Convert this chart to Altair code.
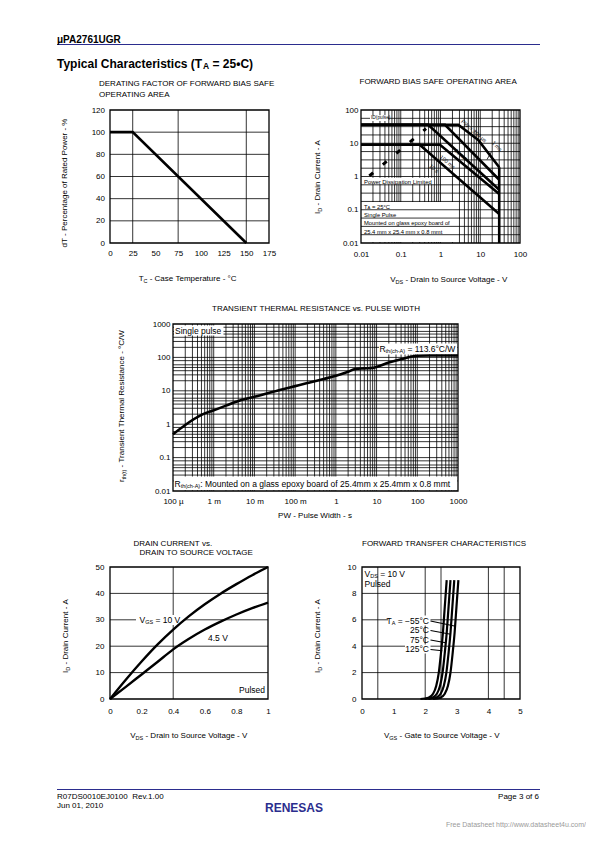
import altair as alt
import pandas as pd

FONT = "Liberation Sans"
W, H = 578, 820          # whole drawing area (page minus 8px margin)
M = 8                    # page margin
BLUE = "#2b2d8e"

# ---------------- data ----------------
# Panel 1: derating factor
derate_temp_c = [0, 25, 150]
derate_pct = [100, 100, 0]
p1_xticks = [0, 25, 50, 75, 100, 125, 150, 175]
p1_yticks = [0, 20, 40, 60, 80, 100, 120]
p1_xgrid = [25, 75, 150]
p1_ygrid = [20, 40, 60, 80, 100]

# Panel 2: forward bias safe operating area
soa_300us_v = [0.01, 2.8, 8.9, 30]
soa_300us_i = [36, 36, 12.5, 1.9]
soa_1ms_v = [0.01, 1.3, 30]
soa_1ms_i = [36, 36, 0.8]
soa_10ms_v = [0.01, 0.49, 30]
soa_10ms_i = [36, 36, 0.4]
soa_100ms_v = [0.01, 0.97, 30]
soa_100ms_i = [9, 9, 0.3]
soa_10s_v = [0.01, 0.3, 30]
soa_10s_i = [9, 9, 0.075]
rds_limit_v = [0.0162, 0.433]
rds_limit_i = [1.04, 27.7]
vdss_v = [30, 30]
vdss_i = [0.01, 1.9]
p2_ticks = [0.01, 0.1, 1, 10, 100]

# Panel 3: transient thermal resistance
pulse_width_s = [1e-4, 2e-4, 5e-4, 1e-3, 2e-3, 5e-3, 1e-2, 2e-2, 5e-2, 0.1, 0.2, 0.5,
                 1, 2, 3, 5, 8, 10, 20, 50, 80, 100, 200, 1000]
rth_cw = [0.5, 0.95, 1.9, 2.6, 3.6, 5.4, 6.6, 8.3, 11.2, 13.8, 17, 22.5,
          28, 37, 45, 47, 48.5, 52, 70, 95, 108, 112, 113.6, 113.6]
p3_xticks = [1e-4, 1e-3, 1e-2, 0.1, 1, 10, 100, 1000]
p3_xlabels = ["100 µ", "1 m", "10 m", "100 m", "1", "10", "100", "1000"]
p3_yticks = [0.01, 0.1, 1, 10, 100, 1000]

# Panel 4: drain current vs drain-source voltage
vds_v = [0, 0.1, 0.2, 0.3, 0.4, 0.5, 0.6, 0.7, 0.8, 0.9, 1.0]
id_vgs10 = [0, 7.3, 14.2, 20.6, 26.3, 31.4, 35.9, 39.9, 43.5, 46.9, 50.0]
id_vgs45 = [0, 4.6, 9.3, 14.0, 18.8, 22.8, 26.3, 29.3, 32.0, 34.4, 36.5]
p4_xticks = [0, 0.2, 0.4, 0.6, 0.8, 1]
p4_yticks = [0, 10, 20, 30, 40, 50]
p4_xgrid = [0.4]
p4_ygrid = [10, 20, 30, 40]

# Panel 5: forward transfer characteristics
ft_id = [0, 0.1, 0.4, 1, 2, 3.5, 5, 7, 9]
ft_vgs_125c = [1.85, 2.10, 2.25, 2.35, 2.43, 2.50, 2.56, 2.62, 2.68]
ft_vgs_75c = [1.98, 2.22, 2.37, 2.47, 2.55, 2.62, 2.68, 2.74, 2.80]
ft_vgs_25c = [2.10, 2.34, 2.49, 2.59, 2.67, 2.74, 2.80, 2.86, 2.92]
ft_vgs_m55c = [2.25, 2.48, 2.62, 2.72, 2.80, 2.87, 2.93, 2.99, 3.05]
p5_xticks = [0, 1, 2, 3, 4, 5]
p5_yticks = [0, 2, 4, 6, 8, 10]
p5_xgrid = [0.5, 2, 2.5, 4, 4.5]
p5_ygrid = [2, 4, 6, 8]

# ---------------- layout (page pixels) ----------------
PANELS = {
    "p1": {"box": (110, 110, 269, 243), "xd": [0, 175], "yd": [0, 120], "xlog": False, "ylog": False},
    "p2": {"box": (361, 110, 520, 243), "xd": [0.01, 100], "yd": [0.01, 100], "xlog": True, "ylog": True},
    "p3": {"box": (173, 324, 458, 491), "xd": [1e-4, 1000], "yd": [0.01, 1000], "xlog": True, "ylog": True},
    "p4": {"box": (110, 567, 268, 699), "xd": [0, 1], "yd": [0, 50], "xlog": False, "ylog": False},
    "p5": {"box": (362, 567, 520, 699), "xd": [0, 5], "yd": [0, 10], "xlog": False, "ylog": False},
}

WR = {' ': 278, '\u00a0': 278, '!': 278, '%': 889, '(': 333, ')': 333, '-': 333, '.': 278, '/': 278,
      ':': 278, ',': 278, '=': 584, '°': 400, 'µ': 556, 'μ': 576, '−': 584, '–': 556, '•': 350,
      'A': 667, 'B': 667, 'C': 722, 'D': 722, 'E': 667, 'F': 611, 'G': 778, 'H': 722, 'I': 278,
      'J': 500, 'K': 667, 'L': 556, 'M': 833, 'N': 722, 'O': 778, 'P': 667, 'Q': 778, 'R': 722,
      'S': 667, 'T': 611, 'U': 722, 'V': 667, 'W': 944, 'X': 667, 'Y': 667, 'Z': 611,
      'a': 556, 'b': 556, 'c': 500, 'd': 556, 'e': 556, 'f': 278, 'g': 556, 'h': 556, 'i': 222,
      'j': 222, 'k': 500, 'l': 222, 'm': 833, 'n': 556, 'o': 556, 'p': 556, 'q': 556, 'r': 333,
      's': 500, 't': 278, 'u': 556, 'v': 500, 'w': 722, 'x': 500, 'y': 500, 'z': 500}
WB = dict(WR)
WB.update({'A': 722, 'C': 722, 'T': 611, 'a': 556, 'c': 556, 'e': 556, 'h': 611, 'i': 278,
           'l': 278, 'p': 611, 'r': 389, 's': 556, 't': 333, 'y': 556})

ONE = pd.DataFrame({"k": [0]})
PLAIN = "'' + datum.value"


def scale(dom, rng, log):
    if log:
        return alt.Scale(type="log", domain=dom, range=rng, nice=False)
    return alt.Scale(type="linear", domain=dom, range=rng, nice=False, zero=False)


def xsc(p):
    P = PANELS[p]
    return scale(P["xd"], [P["box"][0] - M, P["box"][2] - M], P["xlog"])


def ysc(p):
    P = PANELS[p]
    return scale(P["yd"], [P["box"][3] - M, P["box"][1] - M], P["ylog"])


def ax_common(pad):
    return dict(ticks=False, tickSize=0, domain=False, grid=False, labelPadding=pad,
                labelFont=FONT, labelFontSize=8, labelColor="black", labelFlush=False,
                labelOverlap=False, title=None)


def xaxis(p, values, pad, expr=PLAIN):
    b = PANELS[p]["box"]
    kw = ax_common(pad)
    kw.update(values=values, orient="bottom", offset=(b[3] - M) - H, labelExpr=expr)
    return alt.Axis(**kw)


def yaxis(p, values, pad, expr=PLAIN):
    b = PANELS[p]["box"]
    kw = ax_common(pad)
    kw.update(values=values, orient="left", offset=-(b[0] - M), labelExpr=expr)
    return alt.Axis(**kw)


def frame(p, xax, yax):
    P = PANELS[p]
    df = pd.DataFrame({"xa": [P["xd"][0]], "xb": [P["xd"][1]],
                       "ya": [P["yd"][0]], "yb": [P["yd"][1]]})
    return alt.Chart(df).mark_rect(fillOpacity=0, stroke="black", strokeWidth=1.3).encode(
        x=alt.X("xa:Q", scale=xsc(p), axis=xax), x2="xb:Q",
        y=alt.Y("ya:Q", scale=ysc(p), axis=yax), y2="yb:Q")


def vgrid(p, gx, w=0.8):
    P = PANELS[p]
    df = pd.DataFrame({"g": gx})
    df["a"] = P["yd"][0]
    df["b"] = P["yd"][1]
    return alt.Chart(df).mark_rule(color="black", strokeWidth=w).encode(
        x=alt.X("g:Q", scale=xsc(p), axis=None),
        y=alt.Y("a:Q", scale=ysc(p), axis=None), y2="b:Q")


def hgrid(p, gy, w=0.8):
    P = PANELS[p]
    df = pd.DataFrame({"g": gy})
    df["a"] = P["xd"][0]
    df["b"] = P["xd"][1]
    return alt.Chart(df).mark_rule(color="black", strokeWidth=w).encode(
        y=alt.Y("g:Q", scale=ysc(p), axis=None),
        x=alt.X("a:Q", scale=xsc(p), axis=None), x2="b:Q")


def curve(p, xs, ys, width=2.5, interp=None, dash=None):
    df = pd.DataFrame({"x": xs, "y": ys, "o": list(range(len(xs)))})
    mk = dict(color="black", strokeWidth=width)
    if interp:
        mk["interpolate"] = interp
    if dash:
        mk["strokeDash"] = dash
    return alt.Chart(df).mark_line(**mk).encode(
        x=alt.X("x:Q", scale=xsc(p), axis=None),
        y=alt.Y("y:Q", scale=ysc(p), axis=None), order="o:Q")


def txt(s, x, y, size=8, align="left", angle=0, weight="normal", color="black"):
    mk = dict(text=s.replace(" ", "\u00a0"), align=align, baseline="middle",
              fontSize=size, font=FONT, color=color)
    if angle:
        mk["angle"] = angle
    if weight != "normal":
        mk["fontWeight"] = weight
    return alt.Chart(ONE).mark_text(**mk).encode(x=alt.value(x - M), y=alt.value(y - M))


def tw(s, size, bold=False):
    tab = WB if bold else WR
    return sum(tab.get(c, 556) for c in s) * size / 1000.0


def rich(parts, x, y, anchor="left", angle=0, bold=False, color="black"):
    """Text pieces laid end to end (for subscripts); leading blanks become offsets."""
    total = sum(tw(t, s, bold) for t, s, _ in parts)
    pos = {"left": 0.0, "center": -total / 2.0, "right": -total}[anchor]
    out = []
    for t, s, sh in parts:
        wgt = "bold" if bold else "normal"
        body = t.lstrip(" ")
        lead = tw(t[:len(t) - len(body)], s, bold)
        p0 = pos + lead
        if angle == 0:
            out.append(txt(body, x + p0, y + sh, s, weight=wgt, color=color))
        else:
            out.append(txt(body, x + sh, y - p0, s, angle=270, weight=wgt, color=color))
        pos += tw(t, s, bold)
    return out


def white(x0, y0, x1, y1):
    return alt.Chart(ONE).mark_rect(color="white").encode(
        x=alt.value(x0 - M), x2=alt.value(x1 - M), y=alt.value(y0 - M), y2=alt.value(y1 - M))


def seg(x0, y0, x1, y1, w=1.0, color="black"):
    return alt.Chart(ONE).mark_rule(color=color, strokeWidth=w).encode(
        x=alt.value(x0 - M), x2=alt.value(x1 - M), y=alt.value(y0 - M), y2=alt.value(y1 - M))


def log_minor(lo, hi, mult):
    vals = []
    for e in range(lo, hi):
        for m in mult:
            if e == lo and m == 1:
                continue
            vals.append(m * 10.0 ** e)
    return vals


p2_xgrid = log_minor(-2, 2, [1, 2, 3, 4, 5, 6, 7, 8, 9])
p2_ygrid = [10 ** (k / 4.0) for k in range(-7, 8)]
p3_xgrid = log_minor(-4, 3, [1, 2, 3, 4, 5, 6, 7, 8, 9])
p3_ygrid = log_minor(-2, 3, [1, 2, 3, 4, 5, 6, 8])

S = 5.5  # subscript size
layers = []

# anchor so that page coordinates map exactly
layers.append(white(8, 8, 9, 9))

# vertical grids
layers += [vgrid("p1", p1_xgrid), vgrid("p2", p2_xgrid), vgrid("p3", p3_xgrid),
           vgrid("p4", p4_xgrid), vgrid("p5", p5_xgrid)]

# white backgrounds lying under horizontal grid (P2 notes)
layers += [white(362, 177.8, 434, 184.2), white(362, 202, 456, 242)]

# horizontal grids
layers += [hgrid("p1", p1_ygrid), hgrid("p2", p2_ygrid), hgrid("p3", p3_ygrid),
           hgrid("p4", p4_ygrid), hgrid("p5", p5_ygrid)]

# white backgrounds over all grid lines
layers += [white(370, 115.2, 388, 121),
           white(174, 325.5, 223.5, 335.5),
           white(379, 343.5, 457.3, 354.5),
           white(173.7, 476.5, 457.3, 490.3),
           white(136, 615, 184, 625),
           white(388, 615.5, 430.5, 625.5),
           white(405, 644.5, 430.5, 653.5)]

# frames + axes
p3_expr = "[" + ",".join("'%s'" % s for s in p3_xlabels) + "][round(log(datum.value)/LN10)+4]"
layers += [
    frame("p1", xaxis("p1", p1_xticks, 6.5), yaxis("p1", p1_yticks, 5.5)),
    frame("p2", xaxis("p2", p2_ticks, 7.5), yaxis("p2", p2_ticks, 3)),
    frame("p3", xaxis("p3", p3_xticks, 6, expr=p3_expr), yaxis("p3", p3_yticks, 3)),
    frame("p4", xaxis("p4", p4_xticks, 8.5), yaxis("p4", p4_yticks, 6)),
    frame("p5", xaxis("p5", p5_xticks, 8.5), yaxis("p5", p5_yticks, 6)),
]

# curves
layers += [
    curve("p1", derate_temp_c, derate_pct, width=2.6),
    curve("p2", soa_300us_v, soa_300us_i, width=2.6),
    curve("p2", soa_1ms_v, soa_1ms_i, width=2.6),
    curve("p2", soa_10ms_v, soa_10ms_i, width=2.6),
    curve("p2", soa_100ms_v, soa_100ms_i, width=2.6),
    curve("p2", soa_10s_v, soa_10s_i, width=2.6),
    curve("p2", vdss_v, vdss_i, width=2.6),
    curve("p2", rds_limit_v, rds_limit_i, width=3, dash=[5, 12.6]),
    curve("p3", pulse_width_s, rth_cw, width=2.6, interp="monotone"),
    curve("p4", vds_v, id_vgs10, width=2.4, interp="monotone"),
    curve("p4", vds_v, id_vgs45, width=2.4, interp="monotone"),
    curve("p5", ft_vgs_125c, ft_id, width=2.2, interp="monotone"),
    curve("p5", ft_vgs_75c, ft_id, width=2.2, interp="monotone"),
    curve("p5", ft_vgs_25c, ft_id, width=2.2, interp="monotone"),
    curve("p5", ft_vgs_m55c, ft_id, width=2.2, interp="monotone"),
]

# rules: header / footer lines, leaders
layers += [
    seg(57, 44.5, 540, 44.5, w=1.2, color=BLUE),
    seg(57, 789.5, 540, 789.5, w=1.2, color=BLUE),
    seg(491.5, 151.5, 487, 159.5, w=0.8),
    seg(430.5, 621, 455.5, 626.3, w=1.1),
    seg(430.5, 630.5, 450.7, 634.2, w=1.1),
    seg(430.5, 640, 445.7, 642.8, w=1.1),
    seg(430.5, 649.5, 442.3, 650.8, w=1.1),
]

# ---------------- texts ----------------
# header
layers.append(txt("μPA2761UGR", 57, 40, 10, weight="bold"))
layers += rich([("Typical Characteristics (T", 12, 0), ("A", 8.5, 2.5), (" = 25•C)", 12, 0)],
               57, 63.5, bold=True)

# panel 1
layers += [txt("DERATING FACTOR OF FORWARD BIAS SAFE", 99, 83.5, 8),
           txt("OPERATING AREA", 99, 95, 8)]
layers += rich([("T", 8, 0), ("C", S, 2), (" - Case Temperature - °C", 8, 0)], 188, 279, anchor="center")
layers += rich([("dT - Percentage of Rated Power - %", 8, 0)], 65, 183, anchor="center", angle=270)

# panel 2
layers.append(txt("FORWARD BIAS SAFE OPERATING AREA", 359.5, 81.5, 8))
layers += rich([("V", 8, 0), ("DS", S, 2), (" - Drain to Source Voltage - V", 8, 0)], 449, 280, anchor="center")
layers += rich([("I", 8, 0), ("D", S, 2), (" - Drain Current - A", 8, 0)], 318, 177, anchor="center", angle=270)
layers += [
    txt("ID(pulse)", 371, 118, 4.8),
    txt("PW = 300 µs", 474, 131, 5.5, align="center", angle=41),
    txt("1 ms", 497, 146, 5.5, align="center", angle=45),
    txt("10 ms", 461, 154.5, 5.5, align="center", angle=40),
    txt("100 ms", 447.5, 162, 5.5, align="center", angle=40),
    txt("10 s", 434, 168.5, 5.5, align="center", angle=40),
    txt("Power Dissipation Limited", 364, 181.5, 5.9),
    txt("Single Pulse", 364, 215, 5.8),
    txt("Mounted on glass epoxy board of", 364, 223.3, 5.8),
    txt("25.4 mm x 25.4 mm x 0.8 mmt", 364, 231.7, 5.8),
]
layers += rich([("T", 5.8, 0), ("A", 4.2, 1.2), (" = 25°C", 5.8, 0)], 364, 206.5)

# panel 3
layers.append(txt("TRANSIENT THERMAL RESISTANCE vs. PULSE WIDTH", 316, 309, 8, align="center"))
layers += rich([("PW - Pulse Width - s", 8, 0)], 315, 516, anchor="center")
layers += rich([("r", 8, 0), ("th(t)", S, 2), (" - Transient Thermal Resistance - °C/W", 8, 0)],
               121.5, 406, anchor="center", angle=270)
layers.append(txt("Single pulse", 175, 330.5, 8.5))
layers += rich([("R", 8.5, 0), ("th(ch-A)", S, 2), (" = 113.6°C/W", 8.5, 0)], 456, 349, anchor="right")
layers += rich([("R", 8.5, 0), ("th(ch-A)", S, 2),
                (": Mounted on a glass epoxy board of 25.4mm x 25.4mm x 0.8 mmt", 8.5, 0)], 174.5, 483.5)

# panel 4
layers += [txt("DRAIN CURRENT vs.", 133.5, 543.5, 8),
           txt("DRAIN TO SOURCE VOLTAGE", 139.5, 553, 8)]
layers += rich([("V", 8, 0), ("DS", S, 2), (" - Drain to Source Voltage - V", 8, 0)], 189, 736, anchor="center")
layers += rich([("I", 8, 0), ("D", S, 2), (" - Drain Current - A", 8, 0)], 66, 636, anchor="center", angle=270)
layers += rich([("V", 8.5, 0), ("GS", S, 2), (" = 10 V", 8.5, 0)], 139.5, 620)
layers += [txt("4.5 V", 208, 638, 8.5), txt("Pulsed", 265, 690, 8.5, align="right")]

# panel 5
layers.append(txt("FORWARD TRANSFER CHARACTERISTICS", 362, 543.5, 8))
layers += rich([("V", 8, 0), ("GS", S, 2), (" - Gate to Source Voltage - V", 8, 0)], 442, 736, anchor="center")
layers += rich([("I", 8, 0), ("D", S, 2), (" - Drain Current - A", 8, 0)], 318, 636, anchor="center", angle=270)
layers += rich([("V", 8.5, 0), ("DS", S, 2), (" = 10 V", 8.5, 0)], 364.5, 573.5)
layers.append(txt("Pulsed", 364.5, 583.5, 8.5))
layers += rich([("T", 8.5, 0), ("A", S, 2), (" = −55°C", 8.5, 0)], 429, 620.5, anchor="right")
layers += [txt("25°C", 429, 630, 8.5, align="right"),
           txt("75°C", 429, 639.5, 8.5, align="right"),
           txt("125°C", 429, 649, 8.5, align="right")]

# footer
layers += [
    txt("R07DS0010EJ0100  Rev.1.00", 57, 796.5, 8),
    txt("Jun 01, 2010", 57, 806, 8),
    txt("Page 3 of 6", 539, 796.5, 8, align="right"),
    txt("RENESAS", 294, 808, 12, align="center", weight="bold", color=BLUE),
    txt("Free Datasheet http://www.datasheet4u.com/", 586, 825, 7, align="right", color="#9a9a9a"),
]

chart = (
    alt.layer(*layers)
    .resolve_scale(x="independent", y="independent")
    .properties(width=W, height=H, padding=0)
    .configure_view(strokeOpacity=0)
)

chart.save("out.html", embed_options={"renderer": "svg", "actions": False})
